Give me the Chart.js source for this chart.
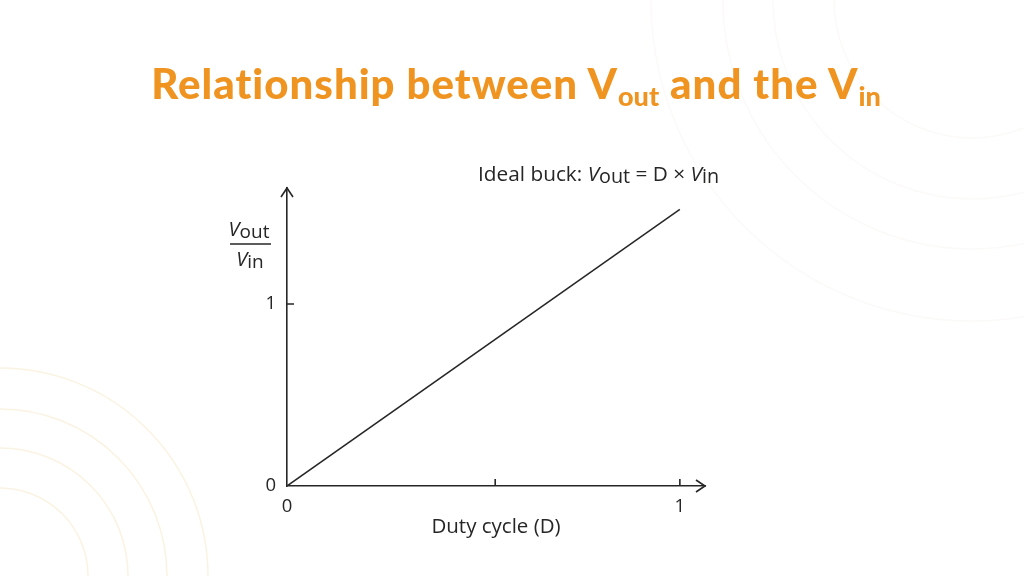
<!DOCTYPE html>
<html>
<head>
<meta charset="utf-8">
<script src="https://cdn.jsdelivr.net/npm/chart.js@4"></script>
<style>
  html, body { margin: 0; padding: 0; background: #fff; }
  #wrap { position: relative; width: 1024px; height: 576px; overflow: hidden; }
  #title {
    position: absolute; left: 4px; top: 58px; width: 1024px; text-align: center;
    font-family: Lato, sans-serif; font-weight: 900; font-size: 42px;
    color: #ef9421; letter-spacing: 1px; white-space: nowrap;
  }
  #title sub { font-size: 27px; vertical-align: -7px; line-height: 0; letter-spacing: 0; }
  canvas { position: absolute; left: 0; top: 0; }
</style>
</head>
<body>
<div id="wrap">
  <canvas id="chart" width="1024" height="576"></canvas>
  <div id="title">Relationship between V<sub>out</sub> and the V<sub>in</sub></div>
</div>
<script>
// ---------- data ----------
const dutyCycle = [0, 1];
const ratio = [0, 1.52];
const xTicks = [0, 0.53, 1];
const xTickLabels = ["0", "", "1"];
const yTicks = [0, 1];
const yTickLabels = ["0", "1"];

const INK = "#262626";
const FONT = "'Open Sans', sans-serif";

// ---------- helpers ----------
// draw runs of text: [text, italic, sub]
function drawRuns(ctx, runs, x, y, size, align) {
  const fontOf = (it, sub) => (it ? "italic " : "") + (sub ? size * 0.95 : size) + "px " + FONT;
  const widths = runs.map(([t, it, sub]) => {
    ctx.font = fontOf(it, sub);
    return ctx.measureText(t).width;
  });
  const total = widths.reduce((a, b) => a + b, 0);
  let cx = align === "center" ? x - total / 2 : x;
  runs.forEach(([t, it, sub], i) => {
    ctx.font = fontOf(it, sub);
    ctx.fillText(t, cx, y + (sub ? size * 0.12 : 0));
    cx += widths[i];
  });
}

// background arcs + axis arrows, inner ticks, labels
const decor = {
  id: "decor",
  beforeDraw(chart) {
    const ctx = chart.ctx;
    ctx.save();
    ctx.lineWidth = 1.5;
    ctx.strokeStyle = "rgba(240, 215, 160, 0.3)";
    [88, 128, 167, 208].forEach((r) => {
      ctx.beginPath();
      ctx.arc(0, 576, r, -Math.PI / 2, 0);
      ctx.stroke();
    });
    ctx.strokeStyle = "rgba(200, 190, 175, 0.08)";
    [138, 199, 249, 321].forEach((r) => {
      ctx.beginPath();
      ctx.arc(972, 0, r, 0, Math.PI);
      ctx.stroke();
    });
    ctx.restore();
  },
  afterDraw(chart) {
    const ctx = chart.ctx;
    const xs = chart.scales.x;
    const ys = chart.scales.y;
    const x0 = xs.getPixelForValue(0);
    const y0 = ys.getPixelForValue(0);
    const { top, right } = chart.chartArea;
    ctx.save();
    ctx.strokeStyle = INK;
    ctx.lineWidth = 1.6;
    // arrows
    ctx.beginPath();
    ctx.moveTo(x0 - 6, top + 9); ctx.lineTo(x0, top); ctx.lineTo(x0 + 6, top + 9);
    ctx.moveTo(right - 9, y0 - 6); ctx.lineTo(right, y0); ctx.lineTo(right - 9, y0 + 6);
    ctx.stroke();
    // inner ticks
    ctx.beginPath();
    xTicks.slice(1).forEach((v) => {
      const px = xs.getPixelForValue(v);
      ctx.moveTo(px, y0); ctx.lineTo(px, y0 - 7);
    });
    yTicks.slice(1).forEach((v) => {
      const py = ys.getPixelForValue(v);
      ctx.moveTo(x0, py); ctx.lineTo(x0 + 7, py);
    });
    ctx.stroke();

    ctx.fillStyle = INK;
    ctx.textBaseline = "alphabetic";
    ctx.textAlign = "left";
    // y axis title as a fraction
    drawRuns(ctx, [["V", true, false], ["out", false, true]], 249, 236, 20, "center");
    ctx.beginPath();
    ctx.lineWidth = 1.4;
    ctx.moveTo(230, 244); ctx.lineTo(271, 244);
    ctx.stroke();
    drawRuns(ctx, [["V", true, false], ["in", false, true]], 250, 266, 20, "center");
    // annotation
    drawRuns(ctx, [["Ideal buck: ", false, false], ["V", true, false], ["out", false, true],
      [" = D \u00d7 ", false, false], ["V", true, false], ["in", false, true]], 478, 181, 20.8, "left");
    ctx.restore();
  },
};

new Chart(document.getElementById("chart"), {
  type: "scatter",
  data: {
    datasets: [{
      data: dutyCycle.map((d, i) => ({ x: d, y: ratio[i] })),
      showLine: true,
      borderColor: INK,
      borderWidth: 1.5,
      pointRadius: 0,
    }],
  },
  options: {
    responsive: false,
    animation: false,
    events: [],
    layout: { padding: { left: 0, top: 188, right: 1024 - 705, bottom: 0 } },
    plugins: { legend: { display: false }, tooltip: { enabled: false } },
    scales: {
      x: {
        type: "linear",
        min: 0,
        max: 1.064,
        afterBuildTicks: (s) => { s.ticks = xTicks.map((v) => ({ value: v })); },
        afterFit: (s) => { s.height = 90; },
        grid: { display: false, drawTicks: false },
        border: { display: true, color: INK, width: 1.6 },
        ticks: {
          padding: 10,
          color: INK,
          font: { family: FONT, size: 18.5 },
          maxRotation: 0,
          autoSkip: false,
          callback: (v) => xTickLabels[xTicks.indexOf(v)],
        },
        title: {
          display: true,
          text: "Duty cycle (D)",
          color: INK,
          font: { family: FONT, size: 20.5 },
          padding: { top: 4, bottom: 37 },
        },
      },
      y: {
        type: "linear",
        min: 0,
        max: 1.637,
        afterBuildTicks: (s) => { s.ticks = yTicks.map((v) => ({ value: v })); },
        afterFit: (s) => { s.width = 287; },
        grid: { display: false, drawTicks: false },
        border: { display: true, color: INK, width: 1.6 },
        ticks: {
          padding: 11,
          color: INK,
          font: { family: FONT, size: 18.5 },
          callback: (v) => yTickLabels[yTicks.indexOf(v)],
        },
      },
    },
  },
  plugins: [decor],
});
</script>
</body>
</html>
